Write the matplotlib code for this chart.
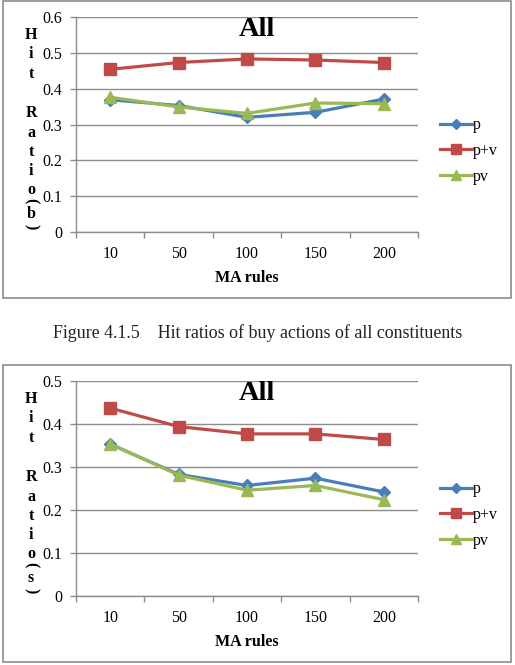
import matplotlib
matplotlib.use("Agg")
import matplotlib.pyplot as plt
from matplotlib.patches import Rectangle
import numpy as np

plt.rcParams['font.family'] = ['Liberation Serif', 'DejaVu Serif']

categories = ["10", "50", "100", "150", "200"]
series_names = ["p", "p+v", "pv"]

# Top chart: hit ratio (buy)
buy_p = [0.369, 0.353, 0.320, 0.334, 0.371]
buy_pv_plus = [0.454, 0.473, 0.483, 0.480, 0.473]
buy_pv = [0.376, 0.349, 0.331, 0.360, 0.358]

# Bottom chart: hit ratio (sell)
sell_p = [0.353, 0.283, 0.257, 0.274, 0.242]
sell_pv_plus = [0.437, 0.394, 0.377, 0.377, 0.364]
sell_pv = [0.354, 0.281, 0.246, 0.257, 0.224]

top_yticks = [0, 0.1, 0.2, 0.3, 0.4, 0.5, 0.6]
bot_yticks = [0, 0.1, 0.2, 0.3, 0.4, 0.5]
caption = "Figure 4.1.5    Hit ratios of buy actions of all constituents"

colors = ["#4A7EBB", "#BE4B48", "#98B954"]
markers = ["D", "s", "^"]
msizes = [6, 8.5, 8.5]

W, H = 515, 665
fig = plt.figure(figsize=(W / 100, H / 100), dpi=100)


def fx(px):
    return px / W


def fy(py):
    return 1 - py / H


def draw_chart(y0, data, yticks, ylabel_char):
    # outer box
    fig.patches.append(Rectangle((fx(3), fy(y0 + 297)), fx(508), (297) / H,
                                 transform=fig.transFigure, fill=False,
                                 edgecolor="#8c8c8c", lw=1.2, zorder=5))
    ax = fig.add_axes([fx(76), fy(y0 + 231), fx(342), 215 / H])
    ax.set_facecolor("none")
    x = np.arange(len(categories))
    for vals, name, c, m, ms in zip(data, series_names, colors, markers, msizes):
        ax.plot(x, vals, color=c, lw=2.3, marker=m, markersize=ms,
                markeredgecolor=c, label=name, zorder=3)
    ax.set_xlim(-0.5, len(categories) - 0.5)
    ax.set_ylim(yticks[0], yticks[-1])
    ax.set_yticks(yticks)
    ax.set_yticklabels(["0" if t == 0 else f"{t:.1f}" for t in yticks], fontsize=11.5)
    ax.set_xticks(x)
    ax.set_xticklabels(categories, fontsize=11.5)
    ax.set_xticks(np.arange(-0.5, len(categories)), minor=True)
    ax.tick_params(axis="x", which="major", length=0, pad=10)
    ax.tick_params(axis="x", which="minor", length=4, color="#8c8c8c", width=1)
    ax.tick_params(axis="y", length=4, color="#8c8c8c", width=1, pad=6)
    ax.grid(axis="y", color="#8c8c8c", lw=1)
    for s in ["top", "right"]:
        ax.spines[s].set_visible(False)
    for s in ["left", "bottom"]:
        ax.spines[s].set_color("#8c8c8c")
        ax.spines[s].set_linewidth(1)
    ax.set_axisbelow(True)
    ax.set_xlabel("MA rules", fontsize=11.5, fontweight="bold", labelpad=6)
    fig.text(fx(257), fy(y0 + 28), "All", fontsize=20.5, fontweight="bold",
             ha="center", va="center")
    leg = ax.legend(loc="center left", bbox_to_anchor=(fx(440), fy(y0 + 150)),
                    bbox_transform=fig.transFigure, frameon=False, fontsize=11.5,
                    handlelength=2.0, handletextpad=0.08, labelspacing=0.6,
                    borderaxespad=0, borderpad=0)
    for h in leg.legend_handles:
        h.set_markersize(h.get_markersize() * 0.9)
    # stacked y label
    letters = [("H", 34), ("i", 53), ("t", 73), ("R", 112), ("a", 132), ("t", 151),
               ("i", 170), ("o", 189)]
    for ch, py in letters:
        fig.text(fx(31), fy(y0 + py), ch, fontsize=11.5, fontweight="bold",
                 ha="center", va="center")
    fig.text(fx(31), fy(y0 + 200), "(", fontsize=11.5, fontweight="bold",
             ha="center", va="center", rotation=-90)
    fig.text(fx(31), fy(y0 + 213), ylabel_char, fontsize=11.5, fontweight="bold",
             ha="center", va="center")
    fig.text(fx(31), fy(y0 + 226), ")", fontsize=11.5, fontweight="bold",
             ha="center", va="center", rotation=-90)
    return ax


draw_chart(1, [buy_p, buy_pv_plus, buy_pv], top_yticks, "b")
fig.text(fx(258), fy(333), caption, fontsize=12.9, ha="center", va="center", color="#222222")
draw_chart(365, [sell_p, sell_pv_plus, sell_pv], bot_yticks, "s")

fig.savefig("out.png", dpi=100, facecolor="white")
